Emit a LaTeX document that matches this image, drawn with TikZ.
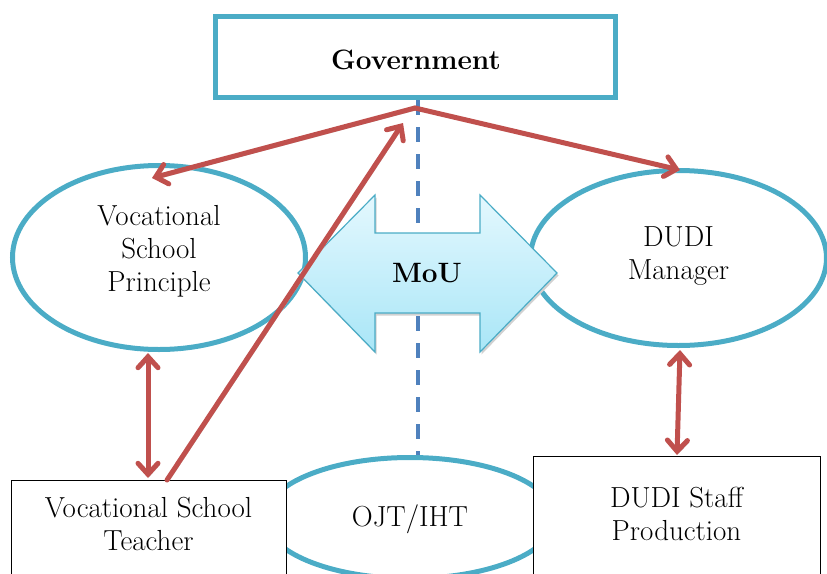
\documentclass[tikz,border=0pt]{standalone}
\usetikzlibrary{arrows.meta,shapes.geometric}
\definecolor{teal1}{HTML}{4BACC6}
\definecolor{red1}{HTML}{C0504D}
\definecolor{blue1}{HTML}{4F81BD}
\definecolor{mouTop}{HTML}{E4F8FE}
\definecolor{mouBot}{HTML}{A9E6F7}
\tikzset{
  txt/.style={font=\fontsize{29}{33}\selectfont, align=center, inner sep=0pt},
  btxt/.style={font=\fontsize{28}{33}\selectfont\bfseries, align=center, inner sep=0pt},
  oval/.style={ellipse, draw=teal1, line width=5pt, inner sep=0pt},
  plainbox/.style={rectangle, draw=black, line width=1pt, fill=white, inner sep=0pt},
  relarrow/.style={draw=red1, line width=5pt, line cap=round,
    preaction={draw=black!20, transform canvas={shift={(1.5pt,-2pt)}}}},
}
\begin{document}
\begin{tikzpicture}[x=1pt,y=-1pt]
\useasboundingbox (0,0) rectangle (827,573);
% dashed divider
\coordinate (dtop) at (418,100);
\coordinate (dbot) at (418,455);
\draw[blue1, line width=4pt, dash pattern=on 15pt off 12pt] (dtop) -- (dbot);
% government
\node[rectangle, draw=teal1, line width=5pt, fill=white, minimum width=400pt, minimum height=81pt, inner sep=0pt] (gov) at (415.5,57) {};
\node[btxt] (govt) at (416,60) {Government};
% ellipses
\node[oval, minimum width=293pt, minimum height=184pt] (princ) at (159,257.5) {};
\node[txt] (princt) at (159,251) {Vocational\\School\\Principle};
\node[oval, minimum width=296pt, minimum height=175pt] (mgr) at (678.5,258) {};
\node[txt] (mgrt) at (678.5,256) {DUDI\\Manager};
\node[oval, minimum width=290pt, minimum height=121pt] (ojt) at (410,518) {};
\node[txt] (ojtt) at (410,519) {OJT/IHT};
% MoU double arrow
\coordinate (mL) at (298,273);
\coordinate (mR) at (557,273);
\path[fill=black!18, transform canvas={shift={(1.5pt,-2.5pt)}}]
  (mL) -- (375,195) -- (375,233) -- (480,233) -- (480,195) -- (mR) -- (480,352) -- (480,313) -- (375,313) -- (375,352) -- cycle;
\path[draw=teal1, line width=1.2pt, top color=mouTop, bottom color=mouBot]
  (mL) -- (375,195) -- (375,233) -- (480,233) -- (480,195) -- (mR) -- (480,352) -- (480,313) -- (375,313) -- (375,352) -- cycle;
\node[btxt] (mou) at (427,273) {MoU};
% boxes
\node[plainbox, minimum width=275pt, minimum height=110pt] (teach) at (148.5,535) {};
\node[txt] (teacht) at (148.5,524) {Vocational School\\Teacher};
\node[plainbox, minimum width=287pt, minimum height=130pt] (staff) at (676.5,521) {};
\node[txt] (stafft) at (676.5,514) {DUDI Staff\\Production};
% red relations
\coordinate (apex) at (415,108);
\coordinate (pTop) at (152,178);
\coordinate (mTop) at (680,170);
\coordinate (tStart) at (167,480);
\coordinate (tEnd) at (403,123);
\coordinate (pBot) at (148,353);
\coordinate (tTop) at (148,478);
\coordinate (mBot) at (680,350);
\coordinate (sTop) at (677,455);
\draw[relarrow, -{Straight Barb[length=11pt,width=20pt,line cap=round]}] (apex) -- (pTop);
\draw[relarrow, -{Straight Barb[length=11pt,width=20pt,line cap=round]}] (apex) -- (mTop);
\draw[relarrow, -{Straight Barb[length=11pt,width=20pt,line cap=round]}] (tStart) -- (tEnd);
\draw[relarrow, {Straight Barb[length=11pt,width=20pt,line cap=round]}-{Straight Barb[length=11pt,width=20pt,line cap=round]}] (pBot) -- (tTop);
\draw[relarrow, {Straight Barb[length=11pt,width=20pt,line cap=round]}-{Straight Barb[length=11pt,width=20pt,line cap=round]}] (mBot) -- (sTop);
\end{tikzpicture}
\end{document}
